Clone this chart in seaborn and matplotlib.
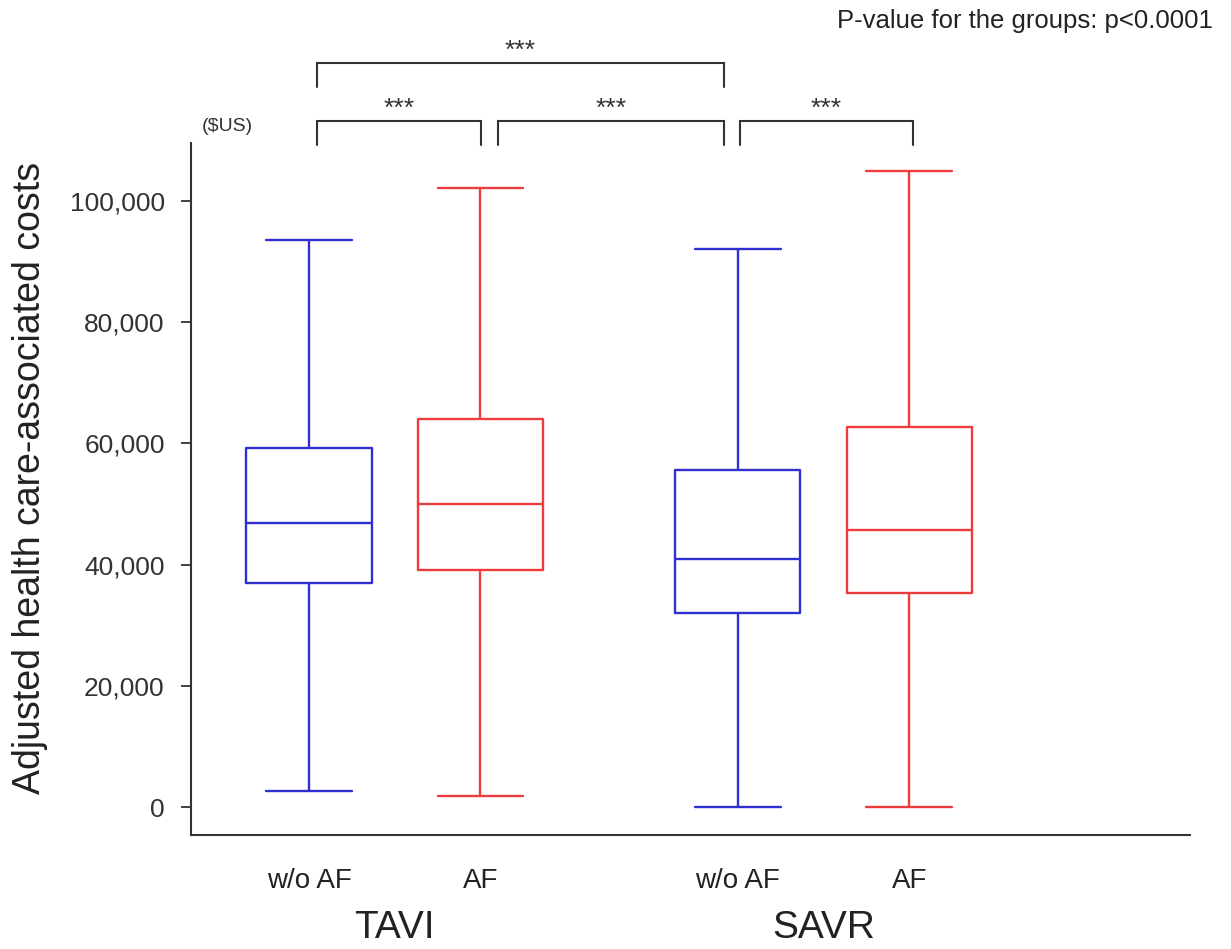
import numpy as np
import pandas as pd
import matplotlib
matplotlib.use("Agg")
import matplotlib.pyplot as plt
import matplotlib.transforms as mtransforms
import seaborn as sns

procedures = ["TAVI", "SAVR"]
af_groups = ["w/o AF", "AF"]

# five-number summaries, order: TAVI w/o AF, TAVI AF, SAVR w/o AF, SAVR AF
whisker_low = [2600, 1800, 0, 0]
q1 = [36900, 39100, 32000, 35300]
median = [46850, 50000, 40900, 45700]
q3 = [59200, 64000, 55600, 62700]
whisker_high = [93500, 102100, 92050, 104900]

y_ticks = [0, 20000, 40000, 60000, 80000, 100000]
p_text = "P-value for the groups: p<0.0001"
stars = "***"

# long table: 5 points per box -> quartiles land exactly on the summary values
rows = []
k = 0
for proc in procedures:
    for grp in af_groups:
        for v in (whisker_low[k], q1[k], median[k], q3[k], whisker_high[k]):
            rows.append((proc, grp, v))
        k += 1
df = pd.DataFrame(rows, columns=["procedure", "group", "cost"])

sns.set_style("ticks")
plt.rcParams["font.family"] = ["Liberation Sans", "DejaVu Sans"]

palette = {"w/o AF": "#2f2fd2", "AF": "#ee3b3b"}
dark = "#333333"

fig = plt.figure(figsize=(12.31, 9.49), dpi=100)
ax = fig.add_axes([0.1552, 0.1201, 0.8115, 0.7292])

sns.boxplot(data=df, x="procedure", y="cost", hue="group", order=procedures,
            hue_order=af_groups, palette=palette, fill=False, whis=np.inf,
            width=0.8, gap=0.27, linewidth=1.7, legend=False, capwidths=0.2, ax=ax)

ax.set_xlim(-0.475, 1.855)
ax.set_ylim(-4620, 109570)
ax.set_xlabel("")
ax.set_ylabel("")

# sub-group labels under each box
box_x = [c + o for c in range(len(procedures)) for o in (-0.2, 0.2)]
ax.set_xticks(box_x)
ax.set_xticklabels(af_groups * len(procedures), fontsize=20, color="#222222")
ax.tick_params(axis="x", length=0, pad=24)

ax.set_yticks(y_ticks)
ax.set_yticklabels(["{:,}".format(t) for t in y_ticks], fontsize=19, color=dark)
ax.tick_params(axis="y", length=7, width=1.3, color=dark, pad=12)

sns.despine(ax=ax)
for s in ["left", "bottom"]:
    ax.spines[s].set_linewidth(1.5)
    ax.spines[s].set_color(dark)

trans = mtransforms.blended_transform_factory(ax.transData, fig.transFigure)
for i, proc in enumerate(procedures):
    ax.text(i, 1 - 938 / 949, proc, ha="center", va="baseline", fontsize=28,
            color="#222222", transform=trans)

fig.text(30 / 1231, 1 - 478 / 949, "Adjusted health care-associated costs",
         rotation=90, ha="center", va="center", fontsize=27, color="#222222")
fig.text(202 / 1231, 1 - 131 / 949, "($US)", ha="left", va="baseline",
         fontsize=14, color=dark)
fig.text(837 / 1231, 1 - 28 / 949, p_text, ha="left", va="baseline",
         fontsize=18.5, color="#222222")

# significance brackets (x in data units, y in cost units)
brackets = [(-0.181, 0.2015, 113200, 109200),
            (0.241, 0.768, 113200, 109200),
            (0.805, 1.209, 113200, 109200),
            (-0.181, 0.768, 122800, 118800)]
for x0, x1, top, leg in brackets:
    ax.plot([x0, x0, x1, x1], [leg, top, top, leg], color=dark, lw=1.5,
            clip_on=False, solid_joinstyle="miter")
    ax.text((x0 + x1) / 2, top + 800, stars, ha="center", va="baseline",
            fontsize=19, color=dark, clip_on=False)

fig.savefig("out.png", dpi=100)
